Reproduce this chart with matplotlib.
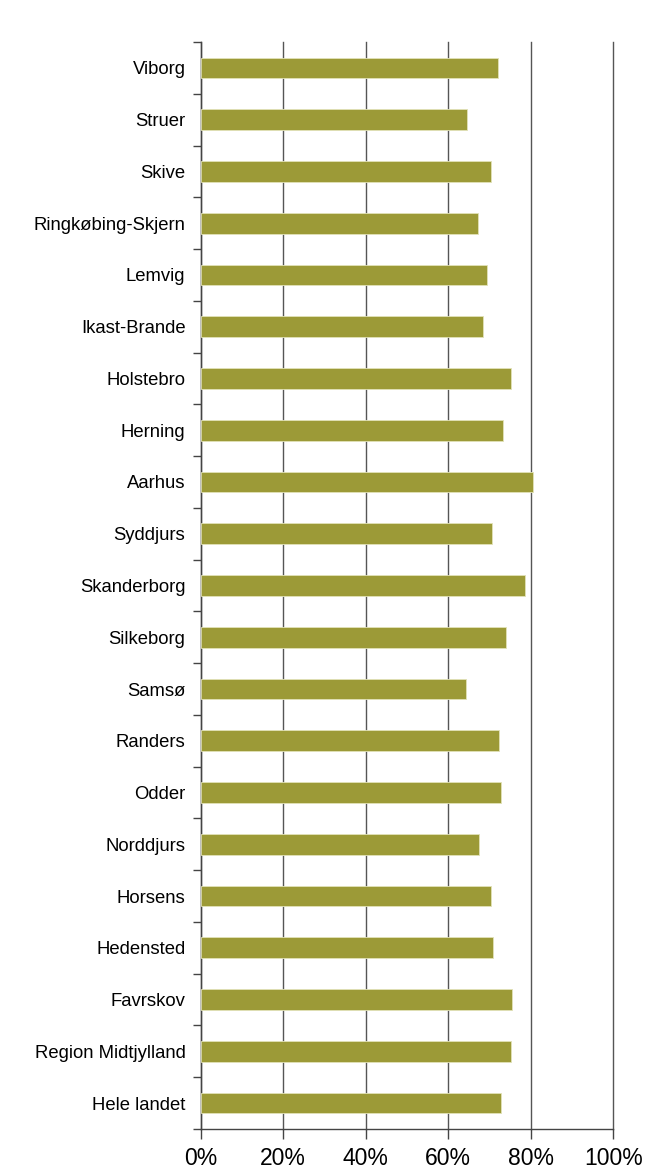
import matplotlib
matplotlib.use("Agg")
import matplotlib.pyplot as plt
import numpy as np
from matplotlib.ticker import FixedLocator, PercentFormatter

categories = ["Viborg", "Struer", "Skive", "Ringkøbing-Skjern", "Lemvig", "Ikast-Brande",
              "Holstebro", "Herning", "Aarhus", "Syddjurs", "Skanderborg", "Silkeborg",
              "Samsø", "Randers", "Odder", "Norddjurs", "Horsens", "Hedensted",
              "Favrskov", "Region Midtjylland", "Hele landet"]
values = [72.1, 64.6, 70.4, 67.1, 69.3, 68.3,
          75.3, 73.2, 80.6, 70.5, 78.6, 74.1,
          64.2, 72.3, 72.8, 67.5, 70.4, 70.8,
          75.5, 75.2, 72.7]
xticks = [0, 20, 40, 60, 80, 100]

plt.rcParams['font.family'] = ['Liberation Sans', 'DejaVu Sans']

fig = plt.figure(figsize=(6.46, 11.68), dpi=100)
ax = fig.add_axes([200.7/646, 1-1129/1168, (613.3-200.7)/646, (1129-42)/1168])

n = len(categories)
y = np.arange(n)
ax.barh(y, values, height=0.4, color="#9C9A37", edgecolor="#E2E2B8", linewidth=0.6, zorder=3)
ax.set_ylim(n - 0.5, -0.5)
ax.set_xlim(0, 100)

ax.set_yticks(y)
ax.set_yticklabels(categories, fontsize=13.3)
ax.tick_params(axis='y', which='major', length=0, pad=11)
ax.yaxis.set_minor_locator(FixedLocator(np.arange(-0.5, n, 1.0)))
ax.tick_params(axis='y', which='minor', length=6, width=1, color="#444444", direction='out')

ax.set_xticks(xticks)
ax.xaxis.set_major_formatter(PercentFormatter(decimals=0))
ax.tick_params(axis='x', which='major', length=7, width=1, color="#444444", labelsize=16.5, pad=6)

ax.grid(axis='x', color="#555555", linewidth=1.0, zorder=0)
ax.set_axisbelow(True)
for gl in ax.get_xgridlines():
    gl.set_clip_on(False)

for s in ['top', 'right']:
    ax.spines[s].set_visible(False)
for s in ['left', 'bottom']:
    ax.spines[s].set_color("#444444")
    ax.spines[s].set_linewidth(1.0)

fig.savefig("out.png", dpi=100, facecolor="white")
